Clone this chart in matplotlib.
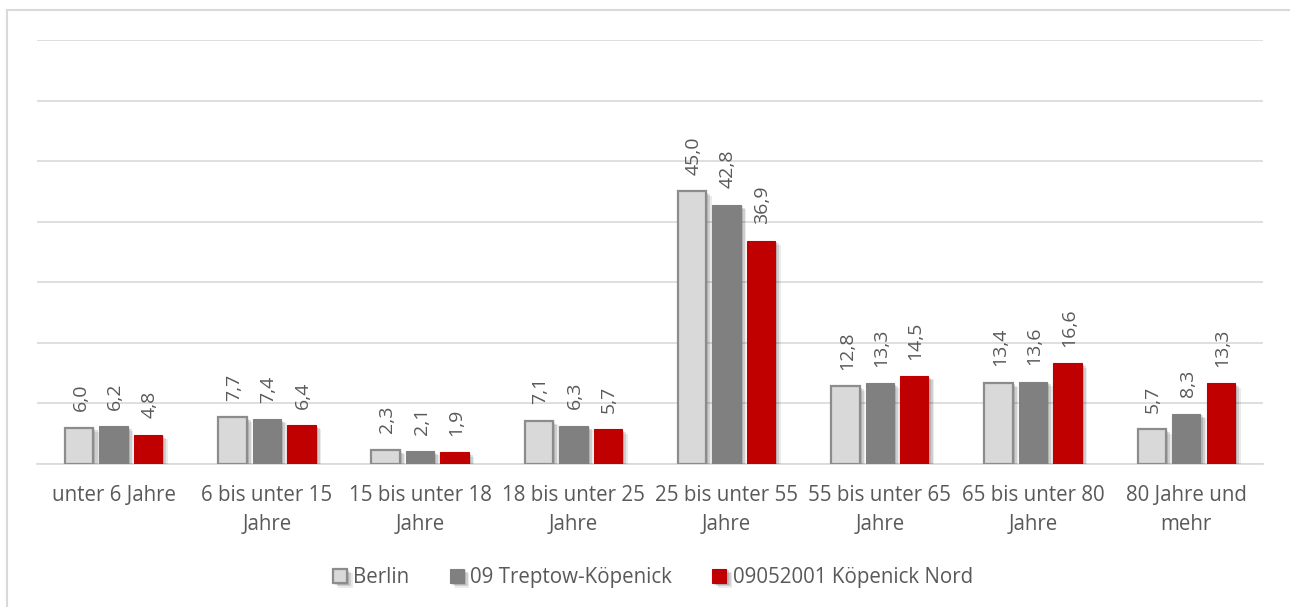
import matplotlib
matplotlib.use("Agg")
import matplotlib.pyplot as plt
import matplotlib.patheffects as pe
import numpy as np

categories = [
    "unter 6 Jahre",
    "6 bis unter 15\nJahre",
    "15 bis unter 18\nJahre",
    "18 bis unter 25\nJahre",
    "25 bis unter 55\nJahre",
    "55 bis unter 65\nJahre",
    "65 bis unter 80\nJahre",
    "80 Jahre und\nmehr",
]
series_names = ["Berlin", "09 Treptow-Köpenick", "09052001 Köpenick Nord"]
berlin = [6.0, 7.7, 2.3, 7.1, 45.0, 12.8, 13.4, 5.7]
treptow = [6.2, 7.4, 2.1, 6.3, 42.8, 13.3, 13.6, 8.3]
koepenick = [4.8, 6.4, 1.9, 5.7, 36.9, 14.5, 16.6, 13.3]

fills = ["#d9d9d9", "#808080", "#c00000"]
edges = ["#8c8c8c", "#808080", "#c00000"]
text_col = "#595959"

plt.rcParams["font.family"] = ["Open Sans", "DejaVu Sans"]

fig = plt.figure(figsize=(12.9, 6.07), dpi=100)
ax = fig.add_axes([0.0287, 0.2356, 0.9503, 0.6984])

x = np.arange(len(categories))
width = 0.185
step = 0.225
shadow = [pe.SimplePatchShadow(offset=(4, -3), shadow_rgbFace="#000000", alpha=0.08),
          pe.SimplePatchShadow(offset=(3, -2), shadow_rgbFace="#000000", alpha=0.12),
          pe.SimplePatchShadow(offset=(1.5, -1), shadow_rgbFace="#000000", alpha=0.12),
          pe.Normal()]

for i, vals in enumerate([berlin, treptow, koepenick]):
    pos = x + (i - 1) * step
    bars = ax.bar(pos, vals, width, color=fills[i], edgecolor=edges[i],
                  linewidth=1.6 if i == 0 else 0.8, label=series_names[i], zorder=3)
    for b in bars:
        b.set_path_effects(shadow)
    for p, v in zip(pos, vals):
        ax.annotate(f"{v:.1f}".replace(".", ","), (p, v), xytext=(1, 12),
                    textcoords="offset points", rotation=90,
                    ha="center", va="bottom", fontsize=14, color=text_col)

ax.set_xlim(-0.5, len(categories) - 0.5)
ax.set_ylim(0, 70)
ax.set_yticks(np.arange(0, 71, 10))
ax.yaxis.grid(True, color="#d9d9d9", linewidth=1.2, zorder=0)
ax.tick_params(axis="y", left=False, labelleft=False)
ax.tick_params(axis="x", bottom=False, pad=11.5)
ax.set_xticks(x)
ax.set_xticklabels(categories, fontsize=14.8, color=text_col, linespacing=1.5)
for s in ["top", "right", "left"]:
    ax.spines[s].set_visible(False)
ax.spines["bottom"].set_color("#d9d9d9")
ax.spines["bottom"].set_linewidth(1.2)
ax.set_axisbelow(True)

leg = fig.legend(loc="center", bbox_to_anchor=(0.506, 0.048), ncol=3, frameon=False,
                 fontsize=14.8, handlelength=0.7, handleheight=0.7,
                 handletextpad=0.3, columnspacing=1.95)
for t in leg.get_texts():
    t.set_color(text_col)

# outer chart border (top and left visible)
fig.add_artist(plt.Line2D([7 / 1290, 1.0], [1 - 10 / 607, 1 - 10 / 607],
                          transform=fig.transFigure, color="#d9d9d9", linewidth=1.5))
fig.add_artist(plt.Line2D([7 / 1290, 7 / 1290], [0, 1 - 10 / 607],
                          transform=fig.transFigure, color="#d9d9d9", linewidth=1.5))

fig.savefig("out.png", dpi=100)
